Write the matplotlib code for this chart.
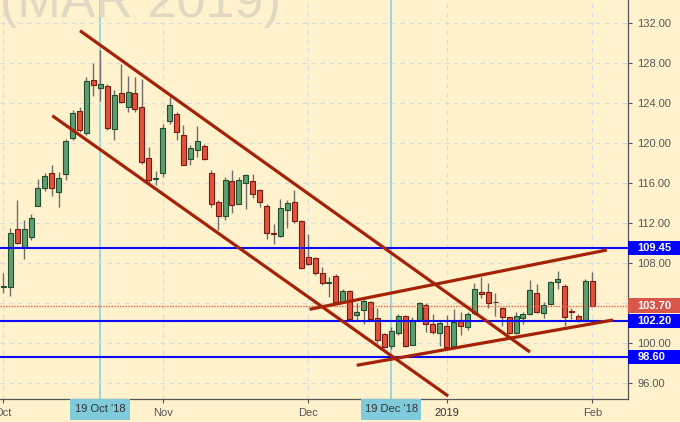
import matplotlib
matplotlib.use("Agg")
import matplotlib.pyplot as plt
from matplotlib.patches import Rectangle
from matplotlib.ticker import FuncFormatter
import numpy as np

plt.rcParams['font.family'] = ['Liberation Sans', 'DejaVu Sans']

# daily candles, Oct 1 2018 .. Feb 1 2019 (trading day index)
opens = [105.60, 105.55, 111.33, 109.60, 110.53, 113.69, 115.48, 117.00, 115.08, 116.92,
         120.46, 123.16, 120.96, 126.22, 125.45, 125.72, 121.36, 124.95, 123.56, 124.95,
         123.56, 118.51, 116.40, 117.02, 122.16, 122.90, 120.73, 118.41, 119.24, 119.67,
         116.98, 114.02, 112.69, 116.18, 113.92, 115.98, 116.18, 115.32, 113.65, 110.96,
         110.69, 113.26, 114.02, 112.16, 108.54, 108.44, 106.95, 105.95, 106.71, 104.11,
         105.21, 102.79, 103.29, 104.11, 102.46, 100.89, 99.63, 101.02, 102.62, 99.80,
         102.29, 103.78, 101.86, 101.02, 101.69, 99.63, 102.29, 101.62, 102.96, 105.11,
         105.05, 104.09, 103.46, 102.56, 101.02, 102.46, 102.89, 105.01, 103.02, 103.88,
         106.11, 105.71, 103.12, 102.69, 102.22, 106.21]
highs = [107.00, 111.50, 114.25, 112.26, 112.86, 116.42, 116.98, 117.74, 117.08, 120.34,
         123.23, 123.56, 126.55, 127.94, 129.28, 125.89, 125.32, 127.88, 126.72, 126.55,
         126.38, 119.57, 117.17, 121.90, 124.55, 123.06, 121.73, 119.74, 121.66, 119.84,
         117.24, 114.25, 116.58, 117.24, 116.58, 116.92, 116.92, 115.42, 113.85, 111.83,
         114.42, 114.25, 115.25, 112.26, 110.86, 108.60, 107.54, 106.61, 106.85, 105.35,
         105.28, 103.95, 104.45, 104.18, 103.46, 100.96, 101.62, 102.86, 102.79, 102.56,
         104.11, 103.95, 102.86, 102.29, 102.79, 103.36, 103.12, 103.12, 106.01, 106.61,
         106.01, 104.95, 103.62, 102.62, 103.12, 103.12, 106.28, 105.88, 104.11, 106.21,
         107.20, 105.88, 103.46, 102.89, 106.35, 107.10]
lows = [105.00, 104.70, 109.90, 108.34, 110.27, 113.69, 115.18, 114.65, 113.59, 116.32,
        120.30, 121.06, 120.73, 124.65, 124.22, 121.23, 120.24, 124.00, 123.06, 123.06,
        117.91, 115.98, 115.75, 116.58, 121.90, 120.24, 117.74, 117.81, 118.57, 118.31,
        113.59, 111.26, 112.26, 112.93, 113.85, 113.33, 114.52, 113.59, 110.37, 109.84,
        110.59, 111.43, 111.99, 107.34, 107.77, 106.78, 105.78, 104.61, 103.88, 104.02,
        102.29, 102.29, 101.89, 102.29, 99.97, 99.47, 99.37, 100.79, 99.57, 99.80,
        102.22, 101.12, 100.89, 99.63, 99.47, 99.57, 100.79, 101.29, 102.79, 104.45,
        103.52, 102.69, 101.69, 100.89, 100.89, 101.89, 102.79, 102.96, 102.46, 103.78,
        105.35, 101.69, 102.36, 102.12, 102.22, 103.70]
closes = [105.65, 111.00, 110.00, 111.40, 112.43, 115.42, 116.72, 115.48, 116.52, 120.14,
          122.99, 121.23, 126.22, 125.82, 125.89, 121.46, 124.82, 124.05, 125.05, 123.33,
          118.07, 116.32, 116.45, 121.46, 123.82, 121.06, 117.74, 119.47, 120.17, 118.41,
          113.85, 112.69, 116.22, 113.82, 116.32, 116.75, 114.92, 114.08, 110.93, 110.90,
          113.43, 113.92, 112.19, 107.44, 107.84, 106.95, 105.95, 106.00, 104.05, 105.21,
          102.36, 103.12, 104.18, 102.36, 100.30, 99.57, 101.19, 102.62, 99.70, 102.29,
          104.02, 101.86, 101.12, 101.96, 99.57, 102.12, 101.69, 102.89, 105.35, 104.85,
          104.02, 104.03, 102.56, 101.02, 102.69, 102.89, 105.28, 103.06, 103.78, 106.11,
          106.38, 102.56, 103.10, 102.22, 106.21, 103.70]

month_pos = [0, 23, 44, 64, 85]
month_labels = ['Oct', 'Nov', 'Dec', '2019', 'Feb']

# marked days
mark_pos = [14, 56]
mark_labels = ["19 Oct '18", "19 Dec '18"]

# support / resistance levels
levels = [109.45, 102.20, 98.60]
last_price = 103.70

# trend lines (start index, start price, end index, end price)
trend_lines = [
    (11.07, 131.20, 76.0, 99.07),
    (7.07, 122.70, 64.2, 94.67),
    (44.2, 103.34, 87.1, 109.27),
    (51.0, 97.74, 88.0, 102.27),
]

bg = '#FFF2CC'
up_fill, up_edge = '#5E9E72', '#1F4F2C'
dn_fill, dn_edge = '#E0533F', '#7A1A10'

fig = plt.figure(figsize=(6.8, 4.22), dpi=100)
fig.patch.set_facecolor(bg)
ax = fig.add_axes([0, (422 - 398.7) / 422, 628.3 / 680, 398.7 / 422])
ax.set_facecolor(bg)

fig.text(0.0, 1 - 16.7 / 422, '(MAR 2019)', fontsize=37.5, color='#E0D8C2',
         va='baseline', ha='left', zorder=0)

idx = np.arange(len(opens))
o = np.array(opens)
c = np.array(closes)
up = c >= o

ax.vlines(idx, lows, highs, color='#6E6E6E', lw=1, zorder=2)
bottoms = np.minimum(o, c)
heights = np.maximum(np.abs(c - o), 0.08)
ax.bar(idx, heights, bottom=bottoms, width=0.72,
       color=np.where(up, up_fill, dn_fill), edgecolor=np.where(up, up_edge, dn_edge),
       linewidth=0.8, zorder=3)

for p in mark_pos:
    ax.axvline(p, color='#86D3E3', lw=1.2, zorder=1)

for lv in levels:
    ax.axhline(lv, color='#0A0AF5', lw=1.5, zorder=4)
ax.axhline(last_price, color='#E8604C', lw=1, ls=(0, (1, 1)), zorder=4)

for x0, y0, x1, y1 in trend_lines:
    ax.plot([x0, x1], [y0, y1], color='#A52208', lw=2.3, solid_capstyle='butt', zorder=5)

ax.set_xlim(-0.48, 90.2)
ax.set_ylim(94.4, 134.27)

# 104.00 sits under the last price box, so leave its label empty
ax.set_yticks(np.arange(96, 133, 4))
ax.yaxis.set_major_formatter(FuncFormatter(lambda v, pos: '' if abs(v - 104) < 0.01 else f'{v:.2f}'))
ax.yaxis.tick_right()
ax.set_xticks(month_pos)
ax.set_xticklabels(month_labels)
ax.tick_params(axis='y', length=3, pad=3.5, labelsize=8, colors='#555555', width=0.8)
ax.tick_params(axis='x', length=3, pad=4, labelsize=8, colors='#555555', width=0.8)
ax.get_xticklabels()[3].set_color('#333333')
ax.grid(True, color='#D6DCE4', lw=0.8, ls=(0, (4, 4)), zorder=0)

for s in ['left', 'top']:
    ax.spines[s].set_visible(False)
for s in ['right', 'bottom']:
    ax.spines[s].set_color('#555555')
    ax.spines[s].set_linewidth(0.9)

# price boxes on the right axis
ytr = ax.get_yaxis_transform()
box_w = 680 / 628.3 - 1.0
for lv, col in [(109.45, '#0000FF'), (102.20, '#0000FF'), (98.60, '#0000FF'), (last_price, '#D9574A')]:
    ax.add_patch(Rectangle((1.0, lv - 0.72), box_w, 1.44, transform=ytr, clip_on=False,
                           facecolor=col, edgecolor='none', zorder=6))
    ax.text(637.3 / 628.3, lv, f'{lv:.2f}', transform=ytr, ha='left', va='center',
            fontsize=8, color='white', fontweight='bold', zorder=7, clip_on=False)

# date boxes on the bottom axis
xtr = ax.get_xaxis_transform()
bh = 21.3 / 398.7
for p, lab in zip(mark_pos, mark_labels):
    ax.add_patch(Rectangle((p - 4.35, -bh), 8.7, bh, transform=xtr, clip_on=False,
                           facecolor='#7FCBDB', edgecolor='none', zorder=6))
    ax.text(p, -bh / 2, lab, transform=xtr, ha='center', va='center', fontsize=8,
            color='#333333', zorder=7, clip_on=False)

fig.savefig('out.png', dpi=100, facecolor=bg)
